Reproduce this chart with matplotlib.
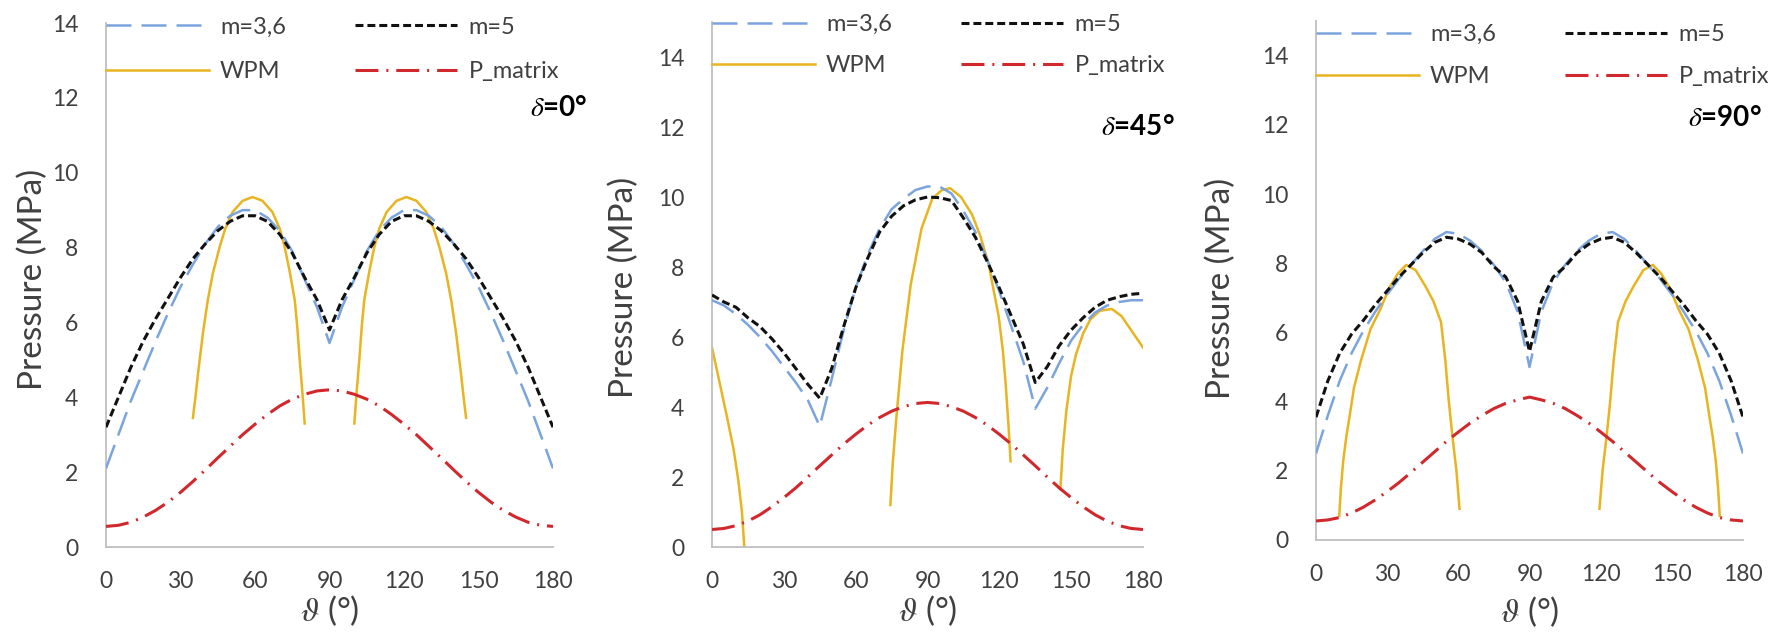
import matplotlib.pyplot as plt
import numpy as np

plt.rcParams['font.family'] = ['Lato', 'DejaVu Sans']
plt.rcParams['mathtext.fontset'] = 'stix'

# ================= data =================
THETA = list(range(0, 181, 5))

# delta = 0
m36_d0 = [2.1, 3.0, 3.9, 4.7, 5.5, 6.25, 6.95, 7.55, 8.1, 8.55, 8.85, 9.0, 9.0, 8.8, 8.45, 7.9, 7.15, 6.4, 5.45,
          6.4, 7.15, 7.9, 8.45, 8.8, 9.0, 9.0, 8.85, 8.55, 8.1, 7.55, 6.95, 6.25, 5.5, 4.7, 3.9, 3.0, 2.1]
m5_d0 = [3.2, 4.0, 4.8, 5.5, 6.1, 6.65, 7.2, 7.7, 8.1, 8.45, 8.7, 8.85, 8.85, 8.7, 8.35, 7.85, 7.2, 6.6, 5.8,
         6.6, 7.2, 7.85, 8.35, 8.7, 8.85, 8.85, 8.7, 8.45, 8.1, 7.7, 7.2, 6.65, 6.1, 5.5, 4.8, 4.0, 3.2]
pmat_d0 = [0.55, 0.58, 0.66, 0.8, 0.98, 1.2, 1.46, 1.75, 2.06, 2.38, 2.69, 3.0, 3.28, 3.54, 3.77, 3.95, 4.08, 4.17, 4.2,
           4.17, 4.08, 3.95, 3.77, 3.54, 3.28, 3.0, 2.69, 2.38, 2.06, 1.75, 1.46, 1.2, 0.98, 0.8, 0.66, 0.58, 0.55]
wpm_d0_theta1 = [35, 36, 37, 39, 41, 43, 45.7, 48, 51, 55, 59, 63, 67, 70, 72, 74, 76, 77, 78, 79, 80]
wpm_d0_val1 = [3.45, 4.0, 4.6, 5.7, 6.6, 7.3, 8.0, 8.5, 8.95, 9.25, 9.35, 9.25, 8.95, 8.5, 8.0, 7.35, 6.6, 5.9, 5.0, 4.2, 3.3]
wpm_d0_theta2 = [100, 101, 102, 103, 104, 106, 108, 110, 113, 117, 121, 125, 129, 132, 134.3, 137, 139, 141, 143, 144, 145]
wpm_d0_val2 = [3.3, 4.2, 5.0, 5.9, 6.6, 7.35, 8.0, 8.5, 8.95, 9.25, 9.35, 9.25, 8.95, 8.5, 8.0, 7.3, 6.6, 5.7, 4.6, 4.0, 3.45]

# delta = 45
m36_d45 = [7.05, 6.9, 6.65, 6.35, 6.0, 5.6, 5.15, 4.7, 4.2, 3.45, 4.8, 6.2, 7.4, 8.35, 9.1, 9.65, 9.95, 10.2, 10.3,
           10.3, 10.1, 9.6, 9.0, 8.2, 7.3, 6.3, 5.3, 3.95, 4.55, 5.25, 5.9, 6.35, 6.7, 6.9, 7.0, 7.05, 7.05]
m5_d45 = [7.2, 7.0, 6.85, 6.55, 6.3, 5.95, 5.55, 5.1, 4.65, 4.25, 5.1, 6.3, 7.4, 8.25, 9.0, 9.45, 9.75, 9.92, 10.0,
          9.98, 9.9, 9.4, 8.85, 8.15, 7.4, 6.6, 5.8, 4.7, 5.15, 5.75, 6.2, 6.55, 6.85, 7.05, 7.15, 7.22, 7.25]
pmat_d45 = [0.5, 0.53, 0.61, 0.74, 0.92, 1.15, 1.41, 1.69, 2.0, 2.32, 2.63, 2.94, 3.22, 3.48, 3.7, 3.88, 4.01, 4.1, 4.13,
            4.1, 4.01, 3.88, 3.7, 3.48, 3.22, 2.94, 2.63, 2.32, 2.0, 1.69, 1.41, 1.15, 0.92, 0.74, 0.61, 0.53, 0.5]
wpm_d45_theta1 = [0, 3, 6, 9, 11, 12.5, 13.5]
wpm_d45_val1 = [5.7, 4.75, 3.8, 2.8, 1.9, 1.0, 0.0]
wpm_d45_theta2 = [74.5, 75.5, 77, 79.5, 83, 87.5, 92, 96, 99.5, 104, 108.6, 112, 115.5, 118, 119.7, 121.5, 122.6, 123.8, 124.7]
wpm_d45_val2 = [1.2, 2.4, 3.7, 5.6, 7.5, 9.1, 9.95, 10.2, 10.25, 10.0, 9.5, 8.9, 8.1, 7.2, 6.6, 5.6, 4.7, 3.5, 2.45]
wpm_d45_theta3 = [145.5, 146.5, 148, 150, 152, 155, 158, 162, 167, 171, 175, 180]
wpm_d45_val3 = [1.65, 2.8, 3.9, 4.9, 5.5, 6.1, 6.5, 6.75, 6.8, 6.6, 6.2, 5.7]

# delta = 90
m36_d90 = [2.5, 3.6, 4.6, 5.4, 6.05, 6.6, 7.1, 7.55, 7.95, 8.35, 8.7, 8.9, 8.85, 8.65, 8.35, 7.95, 7.45, 6.6, 5.0,
           6.6, 7.45, 7.95, 8.35, 8.65, 8.85, 8.9, 8.7, 8.35, 7.95, 7.55, 7.1, 6.6, 6.05, 5.4, 4.6, 3.6, 2.5]
m5_d90 = [3.55, 4.6, 5.4, 5.95, 6.35, 6.8, 7.2, 7.6, 7.95, 8.3, 8.6, 8.75, 8.7, 8.55, 8.3, 7.9, 7.6, 6.9, 5.45,
          6.9, 7.6, 7.9, 8.3, 8.55, 8.7, 8.75, 8.6, 8.3, 7.95, 7.6, 7.2, 6.8, 6.35, 5.95, 5.4, 4.6, 3.55]
pmat_d90 = [0.55, 0.58, 0.65, 0.78, 0.95, 1.16, 1.4, 1.66, 1.95, 2.25, 2.55, 2.85, 3.12, 3.38, 3.6, 3.8, 3.95, 4.05, 4.13,
            4.05, 3.95, 3.8, 3.6, 3.38, 3.12, 2.85, 2.55, 2.25, 1.95, 1.66, 1.4, 1.16, 0.95, 0.78, 0.65, 0.58, 0.55]
wpm_d90_theta1 = [9.8, 10.5, 11.5, 12.8, 14, 16, 19, 23, 27, 31, 34.5, 38, 42, 46, 49.5, 52.7, 54.5, 56, 57.5, 59.2, 60.5]
wpm_d90_val1 = [0.7, 1.5, 2.3, 3.0, 3.5, 4.4, 5.2, 6.1, 6.65, 7.3, 7.7, 7.95, 7.8, 7.35, 6.9, 6.3, 5.2, 4.0, 3.0, 2.0, 0.9]
wpm_d90_theta2 = [119.5, 120.8, 122.5, 124, 125.5, 127.3, 130.5, 134, 138, 142, 145.5, 149, 153, 157, 161, 164, 166, 167.2, 168.5, 169.5, 170.2]
wpm_d90_val2 = [0.9, 2.0, 3.0, 4.0, 5.2, 6.3, 6.9, 7.35, 7.8, 7.95, 7.7, 7.3, 6.65, 6.1, 5.2, 4.4, 3.5, 3.0, 2.3, 1.5, 0.7]

X_TICKS = [0, 30, 60, 90, 120, 150, 180]
Y_TICKS = [0, 2, 4, 6, 8, 10, 12, 14]
LABELS = ['m=3,6', 'WPM', 'm=5', 'P_matrix']

# ================= style =================
BLUE = '#7ba4de'
BLACK = '#111111'
GOLD = '#e8b420'
RED = '#d0282c'
AXIS_GREY = '#bfbfbf'
TEXT_GREY = '#404040'

W, H = 1772, 643


def px_rect(left, right, bottom, top):
    # pixel box -> figure fraction
    return [left / W, 1 - bottom / H, (right - left) / W, (bottom - top) / H]


def draw_panel(ax, m36, m5, pmat, wpm_segments, ymax, delta_txt, delta_xy,
               legend_top, legend_gap, ylab_xy, xlab_y):
    l_blue, = ax.plot(THETA, m36, color=BLUE, lw=1.8, dashes=(10, 4), zorder=3)
    l_black, = ax.plot(THETA, m5, color=BLACK, lw=2.2, dashes=(2.6, 1.3), zorder=4)
    l_gold = None
    for th, val in wpm_segments:
        l_gold, = ax.plot(th, val, color=GOLD, lw=1.8, zorder=2)
    l_red, = ax.plot(THETA, pmat, color=RED, lw=2.2, dashes=(7.5, 2.6, 0.65, 2.6), zorder=5)

    ax.set_xlim(0, 180)
    ax.set_ylim(0, ymax)
    ax.set_xticks(X_TICKS)
    ax.set_yticks(Y_TICKS)
    ax.tick_params(axis='both', length=0, labelsize=16.5, labelcolor=TEXT_GREY)
    ax.tick_params(axis='x', pad=17)
    ax.tick_params(axis='y', pad=20)
    for side in ['top', 'right']:
        ax.spines[side].set_visible(False)
    for side in ['left', 'bottom']:
        ax.spines[side].set_color(AXIS_GREY)
        ax.spines[side].set_linewidth(1.3)

    ax.set_ylabel('Pressure (MPa)', fontsize=24, color=TEXT_GREY)
    ax.yaxis.set_label_coords(*ylab_xy)
    ax.set_xlabel(r'$\vartheta$ (°)', fontsize=24, color=TEXT_GREY)
    ax.xaxis.set_label_coords(0.5, xlab_y)

    ax.legend([l_blue, l_gold, l_black, l_red], LABELS, ncol=2, loc='upper left',
              bbox_to_anchor=(0, legend_top), frameon=False, fontsize=17,
              handlelength=4.36, handletextpad=0.47, columnspacing=2.9,
              labelspacing=legend_gap, borderpad=0, borderaxespad=0, labelcolor=TEXT_GREY)

    fig.text(delta_xy[0] / W, 1 - delta_xy[1] / H, delta_txt, ha='right', va='center',
             fontsize=20, fontweight='bold', color='black')


fig = plt.figure(figsize=(W / 100, H / 100), dpi=100)

ax1 = fig.add_axes(px_rect(106, 553, 547, 23))
draw_panel(ax1, m36_d0, m5_d0, pmat_d0,
           [(wpm_d0_theta1, wpm_d0_val1), (wpm_d0_theta2, wpm_d0_val2)],
           14, r'$\delta$=0°', (588, 108), 1.012, 1.0, (-0.13, 0.51), -0.088)

ax2 = fig.add_axes(px_rect(712, 1143, 547, 22))
draw_panel(ax2, m36_d45, m5_d45, pmat_d45,
           [(wpm_d45_theta1, wpm_d45_val1), (wpm_d45_theta2, wpm_d45_val2), (wpm_d45_theta3, wpm_d45_val3)],
           15, r'$\delta$=45°', (1175, 127), 1.015, 0.85, (-0.169, 0.495), -0.088)

ax3 = fig.add_axes(px_rect(1316, 1743, 540, 21))
draw_panel(ax3, m36_d90, m5_d90, pmat_d90,
           [(wpm_d90_theta1, wpm_d90_val1), (wpm_d90_theta2, wpm_d90_val2)],
           15, r'$\delta$=90°', (1762, 118), 0.994, 0.9, (-0.187, 0.485), -0.105)

fig.savefig('out.png', dpi=100)
